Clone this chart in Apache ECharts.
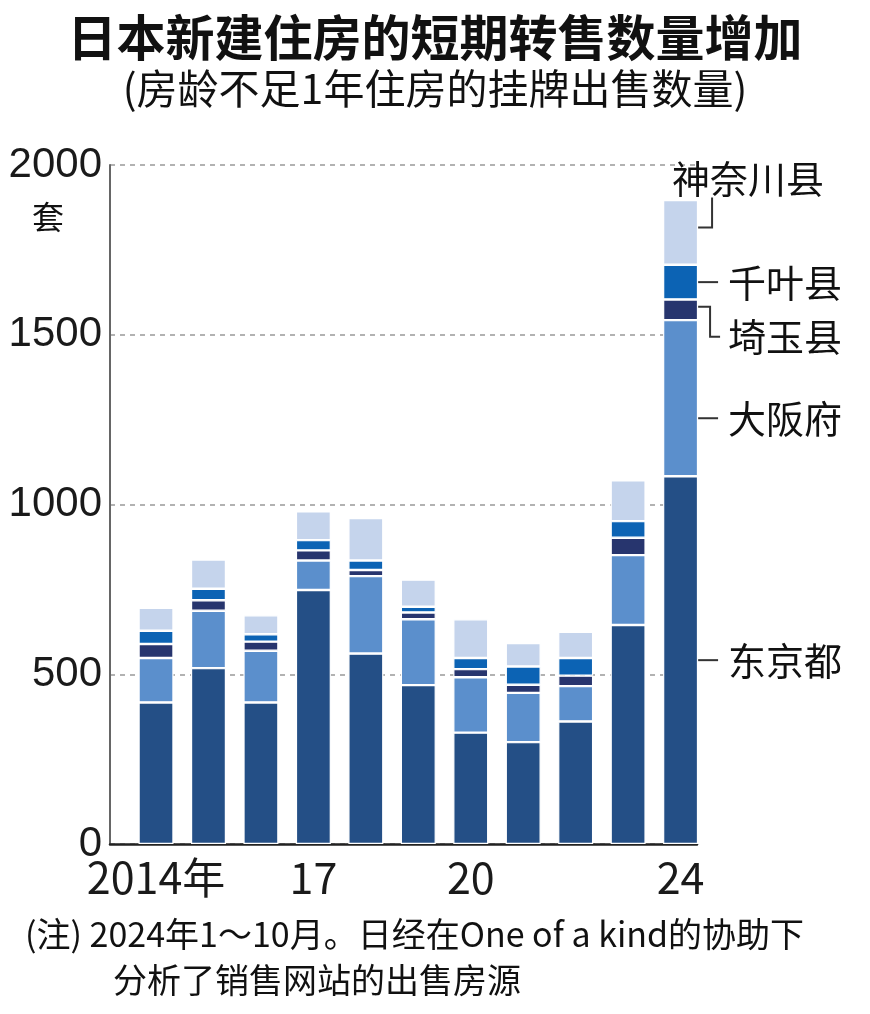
<!DOCTYPE html>
<html>
<head>
<meta charset="utf-8">
<script src="https://cdn.jsdelivr.net/npm/echarts@6/dist/echarts.min.js"></script>
<style>
html,body{margin:0;padding:0;background:#fff;}
#chart{width:870px;height:1014px;}
</style>
</head>
<body>
<div id="chart"></div>
<script>
// ---- data ----
const years = ['2014', '2015', '2016', '2017', '2018', '2019', '2020', '2021', '2022', '2023', '2024'];
const tokyo    = [417, 518, 417, 748, 561, 468, 328, 300, 361, 645, 1083];
const osaka    = [131, 169, 152,  87, 228, 194, 163, 145, 104, 206,  460];
const saitama  = [ 41,  31,  27,  30,  18,  20,  24,  24,  31,  51,   61];
const chiba    = [ 39,  34,  22,  30,  28,  17,  33,  54,  52,  49,  102];
const kanagawa = [ 68,  86,  56,  85, 125,  80, 114,  69,  77, 120,  191];
const seriesNames = ['东京都', '大阪府', '埼玉县', '千叶县', '神奈川县'];
const seriesValues = [tokyo, osaka, saitama, chiba, kanagawa];
const xTickLabels = {'2014': '2014年', '2017': '17', '2020': '20', '2024': '24'};
const yTicks = [0, 500, 1000, 1500, 2000];

const colors = ['#244f86', '#5b8fcc', '#27356e', '#0c63b4', '#c5d4ec'];
const CJK = '"Noto Sans CJK SC", "Noto Sans", sans-serif';

const chart = echarts.init(document.getElementById('chart'), null, {renderer: 'canvas'});

const series = seriesNames.map((name, i) => ({
  name: name,
  type: 'bar',
  stack: 'total',
  xAxisIndex: 1,
  yAxisIndex: 1,
  barWidth: 35,
  data: seriesValues[i],
  itemStyle: {color: colors[i], borderColor: '#ffffff', borderWidth: 1.2},
  emphasis: {disabled: true}
}));

const option = {
  animation: false,
  backgroundColor: '#ffffff',
  title: [
    {text: '日本新建住房的短期转售数量增加', left: 'center', top: 8,
     textStyle: {fontFamily: CJK, fontSize: 49, fontWeight: 'bold', color: '#111'}},
    {text: '(房龄不足1年住房的挂牌出售数量)', left: 'center', top: 63,
     textStyle: {fontFamily: CJK, fontSize: 41, fontWeight: 'normal', color: '#111'}},
    {text: '套', left: 27, top: 196,
     textStyle: {fontFamily: CJK, fontSize: 32, fontWeight: 'normal', color: '#111'}},
    {text: '(注) 2024年1～10月。日经在One of a kind的协助下', left: 20, top: 912,
     textStyle: {fontFamily: CJK, fontSize: 34, fontWeight: 'normal', color: '#111'}},
    {text: '分析了销售网站的出售房源', left: 108, top: 958,
     textStyle: {fontFamily: CJK, fontSize: 34, fontWeight: 'normal', color: '#111'}}
  ],
  grid: [
    // frame grid: value axis, gridlines, baseline
    {left: 110, right: 173, top: 165, bottom: 170},
    // bar grid: category bands
    {left: 129.8, right: 163.2, top: 165, bottom: 170}
  ],
  xAxis: [
    {
      type: 'value', gridIndex: 0, min: 0, max: 1,
      splitLine: {show: false}, axisTick: {show: false}, axisLabel: {show: false},
      axisLine: {show: true, lineStyle: {color: '#222', width: 2.5}}
    },
    {
      type: 'category', gridIndex: 1, data: years,
      axisLine: {show: false}, axisTick: {show: false}, splitLine: {show: false},
      axisLabel: {
        interval: (idx, val) => xTickLabels[val] !== undefined,
        formatter: val => xTickLabels[val] || '',
        margin: 12,
        fontFamily: CJK,
        fontSize: 43,
        color: '#1a1a1a'
      }
    }
  ],
  yAxis: [
    {
      type: 'value', gridIndex: 0, min: 0, max: 2000, interval: 500,
      axisLine: {show: true, lineStyle: {color: '#666', width: 2}},
      axisTick: {show: false},
      splitLine: {show: true, lineStyle: {color: '#999', width: 1.5, type: [5, 5]}},
      axisLabel: {
        fontFamily: '"Liberation Sans", Arial, sans-serif',
        fontSize: 42,
        color: '#1a1a1a',
        margin: 8,
        formatter: v => String(v)
      }
    },
    {
      type: 'value', gridIndex: 1, min: 0, max: 2000, interval: 500, show: false
    }
  ],
  series: series
};
chart.setOption(option);

// ---- callout labels for the last bar, positioned from data via the axes ----
const last = years.length - 1;
const halfBar = 17.5;
const callouts = [
  {shape: 'straight', dy: 0, labelLeft: 728},
  {shape: 'straight', dy: 20, labelLeft: 728},
  {shape: 'down', dy: 0, labelLeft: 728},
  {shape: 'straight', dy: 0, labelLeft: 728},
  {shape: 'up', dy: 0, labelLeft: 672}
];
const graphics = [];
let cum = 0;
seriesValues.forEach((vals, i) => {
  const v = vals[last];
  const mid = cum + v / 2;
  cum += v;
  const p = chart.convertToPixel({xAxisIndex: 1, yAxisIndex: 1}, [last, mid]);
  const x0 = p[0] + halfBar;
  const y0 = p[1];
  const c = callouts[i];
  let pts, ly;
  if (c.shape === 'straight') {
    const yy = y0 + c.dy;
    pts = [[x0, yy], [x0 + 20, yy]];
    ly = yy;
  } else if (c.shape === 'down') {
    pts = [[x0, y0 - 3], [x0 + 12, y0 - 3], [x0 + 12, y0 + 27], [x0 + 22, y0 + 27]];
    ly = y0 + 27;
  } else {
    pts = [[x0, y0 - 5], [x0 + 14, y0 - 5], [x0 + 14, y0 - 35]];
    ly = y0 - 54;
  }
  graphics.push({
    type: 'polyline', silent: true,
    shape: {points: pts},
    style: {stroke: '#333', lineWidth: 2, fill: null}
  });
  graphics.push({
    type: 'text', silent: true,
    x: c.labelLeft, y: ly,
    style: {text: seriesNames[i], font: '38px ' + CJK, fill: '#111',
            textAlign: 'left', verticalAlign: 'middle', textVerticalAlign: 'middle'}
  });
});
chart.setOption({graphic: {elements: graphics}});
</script>
</body>
</html>
